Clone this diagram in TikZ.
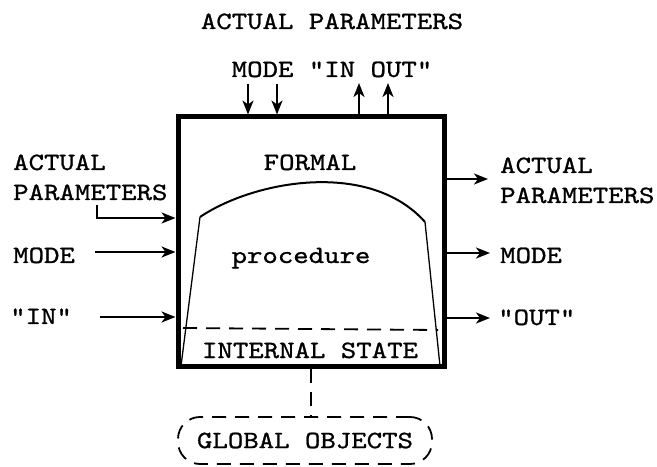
\documentclass[tikz,border=0pt]{standalone}
\usepackage{fontspec}
\setmonofont{lmmono10-regular}[Extension=.otf,FakeStretch=1.18,FakeBold=1]
\usepackage{tikz}
\usetikzlibrary{arrows.meta}

\begin{document}
\begin{tikzpicture}[x=1bp,y=-1bp,>={Stealth[length=14bp,width=11bp,inset=4bp]},
  lbl/.style={font=\fontsize{24.9bp}{28bp}\ttfamily,inner sep=0pt},
  arr/.style={->,line width=2.2bp},
  dsh/.style={line width=1.8bp,dash pattern=on 14bp off 9bp}]
\useasboundingbox (0,0) rectangle (657,467);
% the procedure box
\node[draw,line width=5bp,minimum width=266bp,minimum height=249bp] (proc) at (311,241.5) {};
\draw[line width=1.3bp] (181,366) -- (200,217);
\draw[line width=1.3bp] (425,222) -- (440,366);
\draw[line width=2bp] (200,217) .. controls (255,180) and (370,160) .. (425,222);
\draw[dsh] (183,328) -- (438,330);
\node[lbl,anchor=base] (formal) at (310,170) {FORMAL};
\node[lbl,anchor=base] (body) at (301,263) {procedure};
\node[lbl,anchor=base] (state) at (310,358) {INTERNAL STATE};
% top
\node[lbl,anchor=base] (actT) at (332,29) {ACTUAL PARAMETERS};
\node[lbl,anchor=base] (modeT) at (332,77) {MODE "IN OUT"};
\coordinate (d1) at (248,84);
\coordinate (d2) at (277,84);
\coordinate (u1) at (359,83);
\coordinate (u2) at (388,83);
\draw[arr] (d1) -- (d1 |- proc.north);
\draw[arr] (d2) -- (d2 |- proc.north);
\draw[arr] (u1 |- proc.north) -- (u1);
\draw[arr] (u2 |- proc.north) -- (u2);
% left side
\node[lbl,anchor=base west] (actL) at (13,170) {ACTUAL};
\node[lbl,anchor=base west] (parL) at (13,200) {PARAMETERS};
\node[lbl,anchor=base west] (modeL) at (13,263) {MODE};
\node[lbl,anchor=base west] (inL) at (10,324) {"IN"};
\coordinate (b0) at (97,205);
\coordinate (b1) at (97,218);
\coordinate (l1) at (95,252);
\coordinate (l2) at (100,317);
\draw[arr] (b0) -- (b1) -- (b1 -| proc.west);
\draw[arr] (l1) -- (l1 -| proc.west);
\draw[arr] (l2) -- (l2 -| proc.west);
% right side
\node[lbl,anchor=base west] (actR) at (500,173) {ACTUAL};
\node[lbl,anchor=base west] (parR) at (500,203) {PARAMETERS};
\node[lbl,anchor=base west] (modeR) at (500,263) {MODE};
\node[lbl,anchor=base west] (outR) at (498,325) {"OUT"};
\coordinate (r1) at (488,179);
\coordinate (r2) at (490,253);
\coordinate (r3) at (490,318);
\draw[arr] (r1 -| proc.east) -- (r1);
\draw[arr] (r2 -| proc.east) -- (r2);
\draw[arr] (r3 -| proc.east) -- (r3);
% global objects
\node[lbl,dsh,draw,rounded corners=22bp,minimum width=254bp,minimum height=47bp] (glob) at (305,440.5) {GLOBAL OBJECTS};
\draw[dsh] (proc.south) -- (proc.south |- glob.north);
\end{tikzpicture}
\end{document}
